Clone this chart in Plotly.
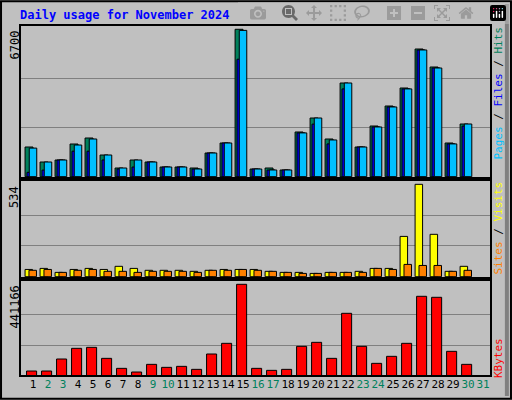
import plotly.graph_objects as go
from plotly.subplots import make_subplots

days = list(range(1, 31))
weekend = [2, 3, 9, 10, 16, 17, 23, 24, 30, 31]

hits = [1350, 668, 759, 1486, 1759, 986, 395, 759, 668, 441, 441, 395, 1077, 1532, 6700,
        350, 395, 305, 2032, 2668, 1713, 4259, 1350, 2304, 3213, 4031, 5804, 4986, 1532, 2395]
files = [200, 300, 759, 1160, 1160, 760, 350, 440, 668, 441, 441, 350, 1077, 1532, 5340,
         350, 305, 305, 1990, 2390, 1490, 3990, 1350, 2260, 3170, 3990, 5760, 4940, 1490, 2300]
pages = [1300, 668, 759, 1440, 1714, 986, 395, 759, 668, 441, 441, 350, 1077, 1532, 6650,
         350, 305, 305, 1990, 2668, 1670, 4259, 1350, 2260, 3170, 3990, 5760, 4940, 1490, 2395]
visits = [42, 48, 25, 42, 48, 42, 60, 48, 37, 37, 37, 31, 37, 42, 42,
          42, 31, 25, 25, 19, 25, 25, 31, 48, 48, 233, 534, 245, 31, 60]
sites = [37, 42, 25, 37, 42, 31, 31, 25, 31, 31, 31, 25, 37, 37, 42,
         37, 31, 25, 19, 19, 25, 25, 25, 48, 42, 71, 65, 65, 31, 37]
kbytes = [22540, 22540, 80500, 132000, 136850, 83720, 35420, 17710, 54740, 40250, 45080, 30590,
          104650, 156170, 441166, 35420, 25760, 30590, 141680, 161000, 83720, 301070, 141680,
          59570, 93380, 156170, 383180, 378350, 117530, 54740]

MONO = "DejaVu Sans Mono"
BG = "#c0c0c0"
line = dict(color="black", width=1)

fig = make_subplots(rows=3, cols=1, shared_xaxes=True)


def bars(vals, color, offset, width, row):
    fig.add_trace(go.Bar(x=days, y=vals, marker=dict(color=color, line=line),
                         offset=offset, width=width, hoverinfo="skip"), row=row, col=1)


bars(hits, "#00805c", -0.53, 0.53, 1)
bars(files, "#0000ff", -0.40, 0.53, 1)
bars(pages, "#00c0ff", -0.25, 0.5, 1)
bars(visits, "#ffff00", -0.53, 0.5, 2)
bars(sites, "#ff8000", -0.27, 0.5, 2)
bars(kbytes, "#ff0000", -0.43, 0.67, 3)

ticktext = [f"<span style='color:#00805c'>{d}</span>" if d in weekend else str(d)
            for d in range(1, 32)]

fig.update_layout(
    width=512, height=400, margin=dict(l=0, r=0, t=0, b=0),
    paper_bgcolor=BG, plot_bgcolor=BG, showlegend=False, barmode="overlay",
    font=dict(family=MONO, size=11, color="black"),
)
doms = [[0.555, 0.9375], [0.305, 0.55], [0.06, 0.30]]
ranges = [[-59, 6895], [-7.5, 559], [-1500, 461900]]
maxes = [6700, 534, 441166]
for i in range(3):
    fig.update_yaxes(row=i + 1, col=1, domain=doms[i], range=ranges[i], automargin=False,
                     tickvals=[maxes[i] / 3, maxes[i] * 2 / 3], showticklabels=False,
                     gridcolor="#808080", gridwidth=1, zeroline=False, ticks="")
    fig.update_xaxes(row=i + 1, col=1, domain=[20 / 512, 491 / 512], range=[0.133, 31.53],
                     showgrid=False, zeroline=False, showticklabels=(i == 2), automargin=False,
                     tickvals=list(range(1, 32)), ticktext=ticktext, ticks="", tickangle=0,
                     tickfont=dict(family=MONO, size=11))
    y0, y1 = doms[i]
    fig.add_shape(type="rect", xref="paper", yref="paper", x0=20 / 512, x1=491 / 512,
                  y0=y0, y1=y1, line=dict(color="black", width=2))
    fig.add_annotation(xref="paper", yref="paper", x=14 / 512, y=y1 - 0.01,
                       text=f"{maxes[i]}", textangle=-90, showarrow=False,
                       xanchor="center", yanchor="top", font=dict(family=MONO, size=12))

fig.add_shape(type="rect", xref="paper", yref="paper", x0=0.002, x1=0.998, y0=0.003, y1=0.997,
              line=dict(color="black", width=2), layer="below")
fig.add_shape(type="line", xref="paper", yref="paper", x0=0.99, x1=0.99, y0=0.01, y1=0.99,
              line=dict(color="#808080", width=4), layer="below")

fig.add_annotation(xref="paper", yref="paper", x=18 / 512, y=0.985, xanchor="left", yanchor="top",
                   text="<b>Daily usage for November 2024</b>", showarrow=False,
                   font=dict(family=MONO, size=12, color="#0000ff"))

right = [
    ("<span style='color:#00c0ff'>Pages</span> / <span style='color:#0000ff'>Files</span>"
     " / <span style='color:#00805c'>Hits</span>", 0.9375),
    ("<span style='color:#ff8000'>Sites</span> / <span style='color:#ffff00'>Visits</span>", 0.55),
    ("<span style='color:#ff0000'>KBytes</span>", 0.16),
]
for txt, y in right:
    fig.add_annotation(xref="paper", yref="paper", x=498 / 512, y=y, text=txt, textangle=-90,
                       showarrow=False, xanchor="center", yanchor="top",
                       font=dict(family=MONO, size=11))

fig.write_html("out.html", post_script="document.body.style.margin='0';")
